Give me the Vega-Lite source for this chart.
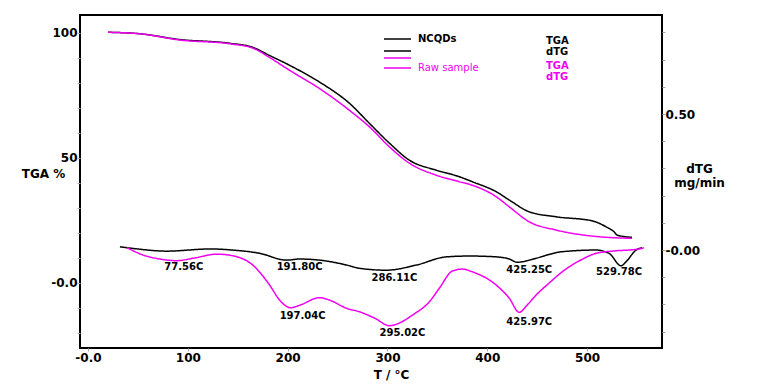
{
  "$schema": "https://vega.github.io/schema/vega-lite/v6.json",
  "width": 582,
  "height": 333,
  "autosize": {"type": "none"},
  "padding": {"left": 80, "top": 15, "right": 95, "bottom": 42},
  "background": "white",
  "config": {
    "font": "DejaVu Sans",
    "view": {"stroke": "black", "strokeWidth": 2},
    "axis": {
      "grid": false,
      "domain": false,
      "labelFont": "DejaVu Sans",
      "labelFontWeight": "bold",
      "labelFontSize": 12,
      "labelColor": "black",
      "labelOverlap": false,
      "labelBound": false,
      "labelFlush": false,
      "tickColor": "#aaaaaa",
      "tickSize": 3,
      "titleFont": "DejaVu Sans",
      "titleFontWeight": "bold",
      "titleFontSize": 12,
      "titleColor": "black"
    },
    "legend": {"padding": 0, "labelFont": "DejaVu Sans", "labelFontSize": 10, "title": null, "orient": "none"}
  },
  "datasets": {
    "curves": [
      {"s": "NCQDs TGA", "T": 20, "v": 100.1},
      {"s": "NCQDs TGA", "T": 52, "v": 99.5},
      {"s": "NCQDs TGA", "T": 92, "v": 97.2},
      {"s": "NCQDs TGA", "T": 142, "v": 95.7},
      {"s": "NCQDs TGA", "T": 165, "v": 94.1},
      {"s": "NCQDs TGA", "T": 182, "v": 90.8},
      {"s": "NCQDs TGA", "T": 202, "v": 86.9},
      {"s": "NCQDs TGA", "T": 232, "v": 80.2},
      {"s": "NCQDs TGA", "T": 262, "v": 71.7},
      {"s": "NCQDs TGA", "T": 282, "v": 63.7},
      {"s": "NCQDs TGA", "T": 302, "v": 55.8},
      {"s": "NCQDs TGA", "T": 322, "v": 49.0},
      {"s": "NCQDs TGA", "T": 349, "v": 45.0},
      {"s": "NCQDs TGA", "T": 372, "v": 42.4},
      {"s": "NCQDs TGA", "T": 385, "v": 40.4},
      {"s": "NCQDs TGA", "T": 409, "v": 36.4},
      {"s": "NCQDs TGA", "T": 422, "v": 33.1},
      {"s": "NCQDs TGA", "T": 442, "v": 28.4},
      {"s": "NCQDs TGA", "T": 469, "v": 26.4},
      {"s": "NCQDs TGA", "T": 505, "v": 24.8},
      {"s": "NCQDs TGA", "T": 519, "v": 22.4},
      {"s": "NCQDs TGA", "T": 527, "v": 20.4},
      {"s": "NCQDs TGA", "T": 530, "v": 19.1},
      {"s": "NCQDs TGA", "T": 545, "v": 18.2},
      {"s": "Raw sample TGA", "T": 20, "v": 100.1},
      {"s": "Raw sample TGA", "T": 52, "v": 99.5},
      {"s": "Raw sample TGA", "T": 92, "v": 97.0},
      {"s": "Raw sample TGA", "T": 142, "v": 95.5},
      {"s": "Raw sample TGA", "T": 165, "v": 93.8},
      {"s": "Raw sample TGA", "T": 182, "v": 90.0},
      {"s": "Raw sample TGA", "T": 202, "v": 84.9},
      {"s": "Raw sample TGA", "T": 232, "v": 77.6},
      {"s": "Raw sample TGA", "T": 262, "v": 68.9},
      {"s": "Raw sample TGA", "T": 282, "v": 62.3},
      {"s": "Raw sample TGA", "T": 302, "v": 54.3},
      {"s": "Raw sample TGA", "T": 322, "v": 47.8},
      {"s": "Raw sample TGA", "T": 349, "v": 43.0},
      {"s": "Raw sample TGA", "T": 372, "v": 40.4},
      {"s": "Raw sample TGA", "T": 385, "v": 39.0},
      {"s": "Raw sample TGA", "T": 409, "v": 34.4},
      {"s": "Raw sample TGA", "T": 422, "v": 30.4},
      {"s": "Raw sample TGA", "T": 442, "v": 24.4},
      {"s": "Raw sample TGA", "T": 469, "v": 21.1},
      {"s": "Raw sample TGA", "T": 505, "v": 18.7},
      {"s": "Raw sample TGA", "T": 545, "v": 17.8},
      {"s": "NCQDs dTG", "T": 32, "v": 0.012},
      {"s": "NCQDs dTG", "T": 45, "v": 0.006},
      {"s": "NCQDs dTG", "T": 79, "v": -0.004},
      {"s": "NCQDs dTG", "T": 122, "v": 0.004},
      {"s": "NCQDs dTG", "T": 145, "v": 0.0},
      {"s": "NCQDs dTG", "T": 172, "v": -0.012},
      {"s": "NCQDs dTG", "T": 199, "v": -0.037},
      {"s": "NCQDs dTG", "T": 212, "v": -0.033},
      {"s": "NCQDs dTG", "T": 232, "v": -0.037},
      {"s": "NCQDs dTG", "T": 259, "v": -0.055},
      {"s": "NCQDs dTG", "T": 272, "v": -0.067},
      {"s": "NCQDs dTG", "T": 299, "v": -0.074},
      {"s": "NCQDs dTG", "T": 329, "v": -0.055},
      {"s": "NCQDs dTG", "T": 359, "v": -0.025},
      {"s": "NCQDs dTG", "T": 382, "v": -0.022},
      {"s": "NCQDs dTG", "T": 409, "v": -0.025},
      {"s": "NCQDs dTG", "T": 422, "v": -0.033},
      {"s": "NCQDs dTG", "T": 430, "v": -0.045},
      {"s": "NCQDs dTG", "T": 439, "v": -0.040},
      {"s": "NCQDs dTG", "T": 449, "v": -0.030},
      {"s": "NCQDs dTG", "T": 475, "v": -0.006},
      {"s": "NCQDs dTG", "T": 509, "v": 0.0},
      {"s": "NCQDs dTG", "T": 522, "v": -0.012},
      {"s": "NCQDs dTG", "T": 534, "v": -0.058},
      {"s": "NCQDs dTG", "T": 539, "v": -0.043},
      {"s": "NCQDs dTG", "T": 549, "v": 0.0},
      {"s": "NCQDs dTG", "T": 555, "v": 0.009},
      {"s": "Raw sample dTG", "T": 39, "v": 0.009},
      {"s": "Raw sample dTG", "T": 55, "v": -0.018},
      {"s": "Raw sample dTG", "T": 72, "v": -0.033},
      {"s": "Raw sample dTG", "T": 89, "v": -0.039},
      {"s": "Raw sample dTG", "T": 107, "v": -0.029},
      {"s": "Raw sample dTG", "T": 129, "v": -0.015},
      {"s": "Raw sample dTG", "T": 145, "v": -0.021},
      {"s": "Raw sample dTG", "T": 165, "v": -0.055},
      {"s": "Raw sample dTG", "T": 182, "v": -0.129},
      {"s": "Raw sample dTG", "T": 192, "v": -0.184},
      {"s": "Raw sample dTG", "T": 203, "v": -0.212},
      {"s": "Raw sample dTG", "T": 212, "v": -0.203},
      {"s": "Raw sample dTG", "T": 232, "v": -0.175},
      {"s": "Raw sample dTG", "T": 242, "v": -0.184},
      {"s": "Raw sample dTG", "T": 259, "v": -0.214},
      {"s": "Raw sample dTG", "T": 272, "v": -0.227},
      {"s": "Raw sample dTG", "T": 287, "v": -0.250},
      {"s": "Raw sample dTG", "T": 302, "v": -0.278},
      {"s": "Raw sample dTG", "T": 312, "v": -0.268},
      {"s": "Raw sample dTG", "T": 325, "v": -0.239},
      {"s": "Raw sample dTG", "T": 342, "v": -0.190},
      {"s": "Raw sample dTG", "T": 352, "v": -0.140},
      {"s": "Raw sample dTG", "T": 365, "v": -0.077},
      {"s": "Raw sample dTG", "T": 375, "v": -0.070},
      {"s": "Raw sample dTG", "T": 385, "v": -0.080},
      {"s": "Raw sample dTG", "T": 409, "v": -0.129},
      {"s": "Raw sample dTG", "T": 422, "v": -0.177},
      {"s": "Raw sample dTG", "T": 432, "v": -0.229},
      {"s": "Raw sample dTG", "T": 440, "v": -0.202},
      {"s": "Raw sample dTG", "T": 449, "v": -0.165},
      {"s": "Raw sample dTG", "T": 462, "v": -0.121},
      {"s": "Raw sample dTG", "T": 475, "v": -0.080},
      {"s": "Raw sample dTG", "T": 492, "v": -0.040},
      {"s": "Raw sample dTG", "T": 509, "v": -0.012},
      {"s": "Raw sample dTG", "T": 525, "v": -0.004},
      {"s": "Raw sample dTG", "T": 552, "v": 0.004},
      {"s": "Raw sample dTG", "T": 557, "v": 0.009}
    ],
    "notes": [
      {"label": "77.56C", "T": 96, "v": -0.0625},
      {"label": "191.80C", "T": 212, "v": -0.0625},
      {"label": "197.04C", "T": 215, "v": -0.243},
      {"label": "286.11C", "T": 307, "v": -0.104},
      {"label": "295.02C", "T": 315, "v": -0.305},
      {"label": "425.25C", "T": 442, "v": -0.074},
      {"label": "425.97C", "T": 442, "v": -0.266},
      {"label": "529.78C", "T": 532, "v": -0.082}
    ]
  },
  "encoding": {
    "x": {
      "field": "T",
      "type": "quantitative",
      "scale": {"domain": [-8, 575], "nice": false, "zero": false},
      "axis": {
        "values": [0, 100, 200, 300, 400, 500],
        "labelExpr": "datum.value == 0 ? '-0.0' : datum.label",
        "title": "T / °C",
        "titleX": 311,
        "titlePadding": 6,
        "labelPadding": 1
      }
    },
    "color": {
      "field": "s",
      "type": "nominal",
      "scale": {
        "domain": ["NCQDs TGA", "NCQDs dTG", "Raw sample TGA", "Raw sample dTG"],
        "range": ["black", "black", "#f000f0", "#f000f0"]
      },
      "legend": {
        "orient": "none",
        "legendX": 312.5,
        "legendY": 19,
        "values": ["NCQDs TGA", "NCQDs dTG"],
        "symbolType": "M-3.375,0H3.375",
        "symbolSize": 64,
        "symbolStrokeWidth": 1.5,
        "labelOffset": 15.5,
        "labelFontWeight": "bold",
        "labelColor": "black",
        "labelExpr": "datum.value == 'NCQDs TGA' ? 'NCQDs' : ''"
      }
    },
    "strokeDash": {
      "field": "s",
      "type": "nominal",
      "scale": {
        "domain": ["Raw sample TGA", "Raw sample dTG", "NCQDs TGA", "NCQDs dTG"],
        "range": [[1, 0], [1, 0], [1, 0], [1, 0]]
      },
      "legend": {
        "orient": "none",
        "legendX": 312.5,
        "legendY": 38,
        "values": ["Raw sample TGA", "Raw sample dTG"],
        "symbolType": "M-3.375,0H3.375",
        "symbolSize": 64,
        "symbolStrokeWidth": 1.5,
        "symbolStrokeColor": "#f000f0",
        "symbolDash": [1, 0],
        "rowPadding": -3,
        "labelOffset": 15.5,
        "labelFontWeight": "normal",
        "labelColor": "#f000f0",
        "labelExpr": "datum.value == 'Raw sample dTG' ? 'Raw sample' : ''"
      }
    },
    "opacity": {
      "field": "s",
      "type": "nominal",
      "scale": {
        "domain": ["NCQDs dTG", "NCQDs TGA", "Raw sample dTG", "Raw sample TGA"],
        "range": [1, 1, 1, 1]
      },
      "legend": {
        "orient": "none",
        "legendX": 456,
        "legendY": 21,
        "values": ["NCQDs TGA", "NCQDs dTG"],
        "symbolOpacity": 0,
        "symbolSize": 0,
        "labelOffset": 0,
        "labelFontWeight": "bold",
        "labelColor": "black",
        "rowPadding": 1,
        "labelExpr": "indexof(datum.value, 'TGA') >= 0 ? 'TGA' : 'dTG'"
      }
    },
    "strokeWidth": {
      "field": "s",
      "type": "nominal",
      "scale": {
        "domain": ["Raw sample dTG", "Raw sample TGA", "NCQDs dTG", "NCQDs TGA"],
        "range": [1.5, 1.5, 1.5, 1.5]
      },
      "legend": {
        "orient": "none",
        "legendX": 456,
        "legendY": 46,
        "values": ["Raw sample TGA", "Raw sample dTG"],
        "symbolOpacity": 0,
        "symbolSize": 0,
        "labelOffset": 0,
        "labelFontWeight": "bold",
        "labelColor": "#f000f0",
        "rowPadding": 1,
        "labelExpr": "indexof(datum.value, 'TGA') >= 0 ? 'TGA' : 'dTG'"
      }
    }
  },
  "layer": [
    {
      "data": {"name": "curves"},
      "transform": [{"filter": "indexof(datum.s, 'TGA') >= 0"}],
      "mark": {"type": "line", "interpolate": "monotone"},
      "encoding": {
        "y": {
          "field": "v",
          "type": "quantitative",
          "scale": {"domain": [-26, 107], "nice": false, "zero": false},
          "axis": {
            "orient": "left",
            "values": [-20, -10, 0, 10, 20, 30, 40, 50, 60, 70, 80, 90, 100],
            "tickCount": 30,
            "labelExpr": "datum.value == 0 ? '-0.0' : (datum.value == 50 || datum.value == 100) ? datum.label : ''",
            "labelPadding": 0,
            "title": "TGA %",
            "titleAngle": 0,
            "titleX": -37,
            "titleY": 158,
            "titleAlign": "center",
            "titleBaseline": "middle"
          }
        }
      }
    },
    {
      "layer": [
        {
          "data": {"name": "curves"},
          "transform": [{"filter": "indexof(datum.s, 'dTG') >= 0"}],
          "mark": {"type": "line", "interpolate": "monotone"},
          "encoding": {
            "y": {
              "field": "v",
              "type": "quantitative",
              "scale": {"domain": [-0.36, 0.864], "nice": false, "zero": false},
              "axis": {
                "orient": "right",
                "values": [-0.3, -0.2, -0.1, 0, 0.1, 0.2, 0.3, 0.4, 0.5, 0.6, 0.7, 0.8],
                "tickCount": 30,
                "labelExpr": "(datum.value > -0.05 && datum.value < 0.05) ? '-0.00' : (datum.value > 0.45 && datum.value < 0.55) ? '0.50' : ''",
                "labelOverlap": false,
                "labelPadding": 0,
                "title": ["dTG", "mg/min"],
                "titleAngle": 0,
                "titleX": 37,
                "titleY": 153,
                "titleAlign": "center",
                "titleBaseline": "middle",
                "titleLineHeight": 14
              }
            }
          }
        },
        {
          "data": {"name": "notes"},
          "mark": {"type": "text", "font": "DejaVu Sans", "fontWeight": "bold", "fontSize": 10, "align": "center", "baseline": "middle"},
          "encoding": {
            "y": {"field": "v", "type": "quantitative", "axis": {"tickCount": 30}},
            "text": {"field": "label", "type": "nominal"},
            "color": {"value": "black"},
            "opacity": {"value": 1},
            "strokeDash": null,
            "strokeWidth": null
          }
        }
      ]
    }
  ],
  "resolve": {"scale": {"y": "independent"}}
}
